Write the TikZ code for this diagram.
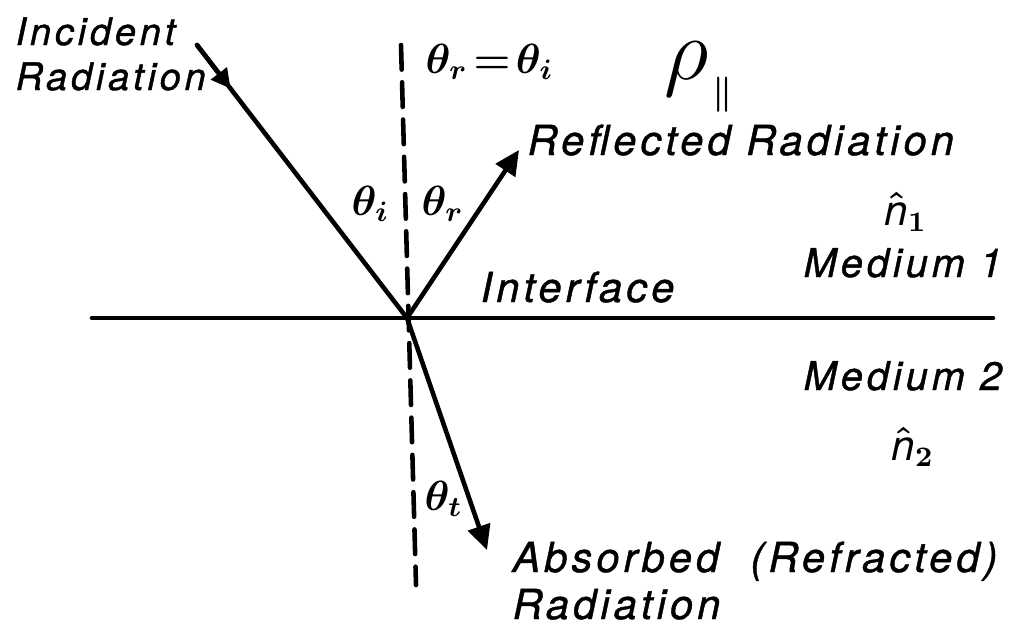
\documentclass[tikz,border=0pt]{standalone}
\usepackage{fontspec}
\setmainfont{TeX Gyre Heros}
\usetikzlibrary{arrows.meta,calc}

\newcommand\lettering[1]{\fontsize{#1}{#1}\selectfont\itshape
  \addfontfeature{LetterSpace=10,FakeBold=1}}

\begin{document}
\begin{tikzpicture}[
  x=0.01cm, y=-0.01cm,
  >={Triangle[length=7pt,width=6.5pt]},
  line cap=round,
  line join=round,
  ray/.style={line width=1.3pt},
  normal/.style={line width=1.3pt,dash pattern=on 7pt off 3.6pt},
  txt/.style={anchor=base west,inner sep=0pt,font=\lettering{11.8}},
  smalltxt/.style={txt,font=\lettering{10.8}},
  midtxt/.style={txt,font=\lettering{11.3}},
  sym/.style={anchor=base west,inner sep=0pt,font=\fontsize{12}{14}\selectfont\boldmath}
]
\useasboundingbox (0,0) rectangle (1013,630);

% ------------------------------------------------------------------
% Interface and normal
% ------------------------------------------------------------------
\coordinate (O) at (407,318);
\coordinate (IL) at (92,318);
\coordinate (IR) at (993,318);
\coordinate (Ntop) at (401,45);
\coordinate (Nbot) at (416,585);

\draw[ray] (IL) -- (IR);
\draw[normal] (Ntop) -- (Nbot);

% ------------------------------------------------------------------
% Incident, reflected and transmitted rays
% ------------------------------------------------------------------
\coordinate (Is) at (197,45);
\coordinate (Rt) at (519,150);
\coordinate (Tt) at (487,550);

\draw[ray] (Is) -- (O);
\draw[ray,-{Triangle[length=5.5pt,width=5.5pt]}] (Is) -- ($(Is)!0.16!(O)$);
\draw[ray,->] (O) -- (Rt);
\draw[ray,->] (O) -- (Tt);

% ------------------------------------------------------------------
% Labels
% ------------------------------------------------------------------
\node[smalltxt] (inc) at (15,45) {Incident};
\node[smalltxt] (incrad) at (15,90) {Radiation};
\node[txt] (refl) at (527,155) {Reflected Radiation};
\node[txt] (iface) at (480,302) {Interface};
\node[midtxt] (med1) at (803,277) {Medium 1};
\node[midtxt] (med2) at (803,390) {Medium 2};
\node[txt] (abs) at (512,572) {Absorbed\ \ (Refracted)};
\node[txt] (absrad) at (512,619) {Radiation};

\node[sym] (law) at (425,73) {$\theta_r\mkern2mu{=}\mkern2mu\theta_i$};
\node[sym,font=\fontsize{28}{28}\selectfont] (rho) at (664,79)
  {$\rho$\kern1pt\raisebox{-7pt}{\fontsize{10}{10}\selectfont\boldmath$\|$}};

\node[sym] (thi) at (351,215) {$\theta_i$};
\node[sym] (thr) at (421,215) {$\theta_r$};
\node[sym] (tht) at (424,510) {$\theta_t$};

\node[sym] (n1) at (884,225) {$\hat{\mbox{\itshape n}}_1$};
\node[sym] (n2) at (891,460) {$\hat{\mbox{\itshape n}}_2$};

\end{tikzpicture}
\end{document}
